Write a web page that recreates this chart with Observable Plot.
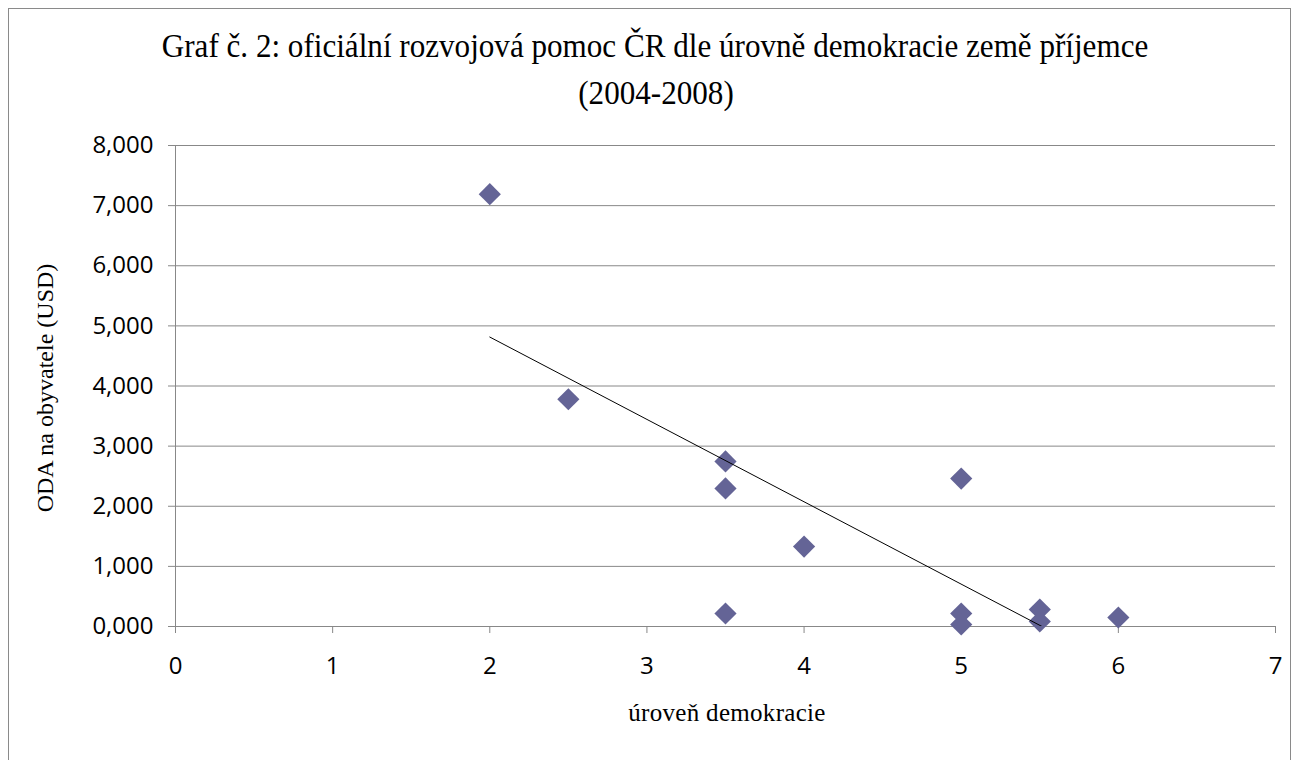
<!DOCTYPE html>
<html><head><meta charset="utf-8">
<script src="https://cdn.jsdelivr.net/npm/d3@7"></script>
<script src="https://cdn.jsdelivr.net/npm/@observablehq/plot@0.6"></script>
<style>
body{margin:0;background:#fff;width:1292px;height:760px;overflow:hidden;position:relative;font-family:"Liberation Serif",serif;color:#000}
#frame{position:absolute;left:8px;top:8px;width:1283px;height:800px;border:1.5px solid #8a8a8a;box-sizing:border-box}
.t{position:absolute;white-space:nowrap;line-height:1;transform-origin:center center}
#chart{position:absolute;left:0;top:120px}
</style></head>
<body>
<div id="frame"></div>
<div id="chart"></div>
<div class="t" id="t1" style="font-size:34px;left:655px;top:29px;transform:translateX(-50%) scaleX(0.915)">Graf č. 2: oficiální rozvojová pomoc ČR dle úrovně demokracie země příjemce</div>
<div class="t" id="t2" style="font-size:34px;left:656px;top:76px;transform:translateX(-50%) scaleX(0.915)">(2004-2008)</div>
<div class="t" id="xl" style="font-size:25px;left:727px;top:700px;transform:translateX(-50%);letter-spacing:0.3px">úroveň demokracie</div>
<div class="t" id="yl" style="font-size:24px;left:45px;top:388px;transform:translate(-50%,-50%) rotate(-90deg)">ODA na obyvatele (USD)</div>
<script>
const demokracie = [2, 2.5, 3.5, 3.5, 3.5, 4, 5, 5, 5, 5.5, 5.5, 6];
const odaNaObyvatele = [7.19, 3.78, 2.745, 2.296, 0.216, 1.33, 2.46, 0.216, 0.033, 0.283, 0.083, 0.15];
const xTicks = [0, 1, 2, 3, 4, 5, 6, 7];
const yTicks = [0, 1, 2, 3, 4, 5, 6, 7, 8];

const data = demokracie.map((x, i) => ({x, y: odaNaObyvatele[i]}));
const fmtY = d => d.toFixed(3).replace(".", ",");
const fmtX = d => String(d);
const grey = "#888888";

const chart = Plot.plot({
  width: 1292, height: 640,
  marginLeft: 175, marginRight: 17, marginTop: 25, marginBottom: 134,
  x: {domain: [0, 7]},
  y: {domain: [0, 8]},
  style: {fontFamily: "'Open Sans', sans-serif", fontSize: "24px", color: "#000", background: "transparent"},
  marks: [
    Plot.gridY(yTicks, {stroke: grey, strokeOpacity: 1}),
    Plot.ruleX([0], {stroke: grey}),
    Plot.axisY({ticks: yTicks, tickSize: 7, tickPadding: 15, tickFormat: fmtY, stroke: grey, strokeOpacity: 1, label: null}),
    Plot.axisX({ticks: xTicks, tickSize: 7, tickPadding: 23, tickFormat: fmtX, stroke: grey, strokeOpacity: 1, label: null}),
    Plot.dot(data, {x: "x", y: "y", symbol: "diamond2", r: 10, fill: "#646496", stroke: "none"}),
    Plot.linearRegressionY(data, {x: "x", y: "y", stroke: "#000", strokeWidth: 1, ci: 0, clip: true})
  ]
});
document.getElementById("chart").appendChild(chart);
</script>
</body></html>
